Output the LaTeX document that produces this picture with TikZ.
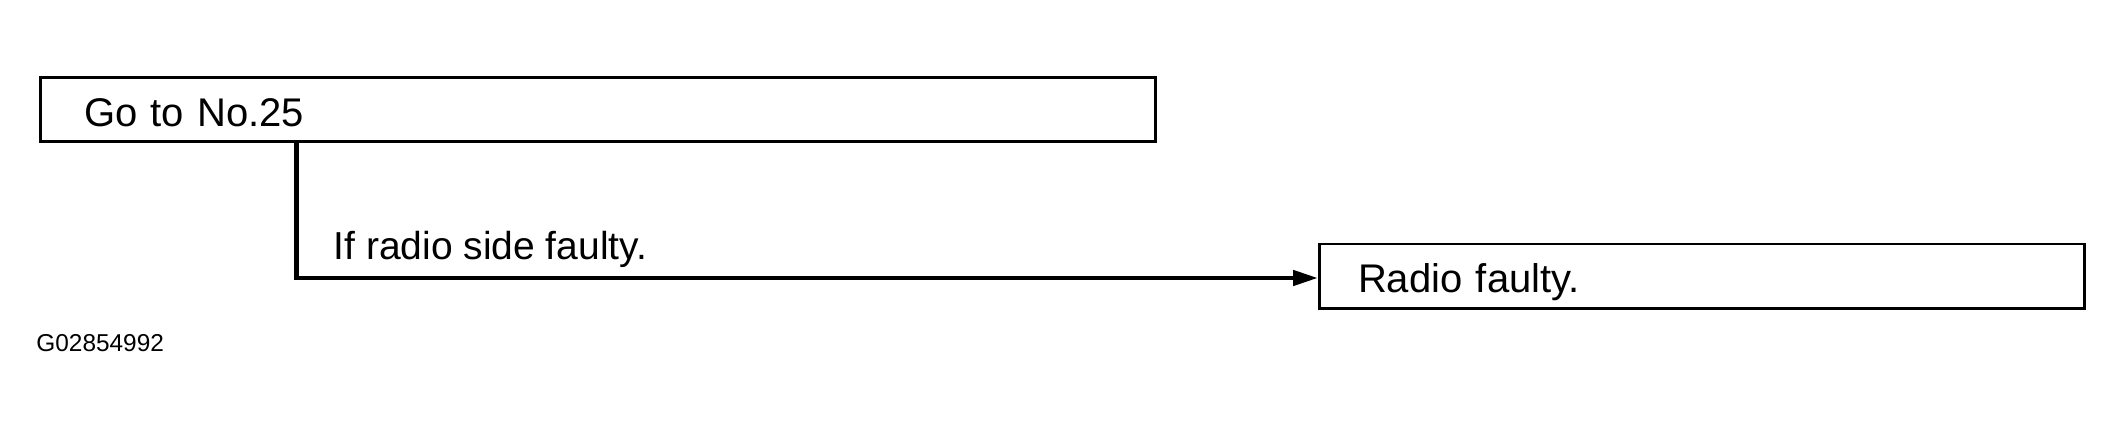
\documentclass[tikz,border=0pt]{standalone}
\usepackage{fontspec}
\setmainfont{Liberation Sans}
\usetikzlibrary{arrows.meta}
\begin{document}
\begin{tikzpicture}[
  box/.style={draw, line width=1.4pt, anchor=north west, align=left, inner ysep=0pt, text depth=0pt, font=\fontsize{20}{24}\selectfont},
  conn/.style={line width=2.3pt, -{Triangle[length=12.5pt,width=7.5pt]}},
  lbl/.style={anchor=base west, inner sep=0pt, font=\fontsize{19.5}{24}\selectfont},
  code/.style={anchor=base west, inner sep=0pt, font=\fontsize{12.2}{14}\selectfont}
]
\useasboundingbox (0,0) rectangle (1060.5pt,214pt);
\node[box, minimum width=557.5pt, minimum height=31.8pt, text width=513.8pt, inner xsep=21.85pt, text height=16.8pt] (a) at (19.5pt,175.75pt) {Go to No.25};
\node[box, minimum width=382.5pt, minimum height=32.3pt, text width=343.8pt, inner xsep=19.35pt, text height=16pt] (b) at (659pt,92.65pt) {Radio faulty.};
\coordinate (turn) at (148.15pt,75pt);
\draw[conn] (turn |- a.south) -- (turn) -- (turn -| b.west);
\node[lbl] (c) at (166.6pt,84.3pt) {If radio side faulty.};
\node[code] (g) at (18pt,38.15pt) {G02854992};
\end{tikzpicture}
\end{document}
